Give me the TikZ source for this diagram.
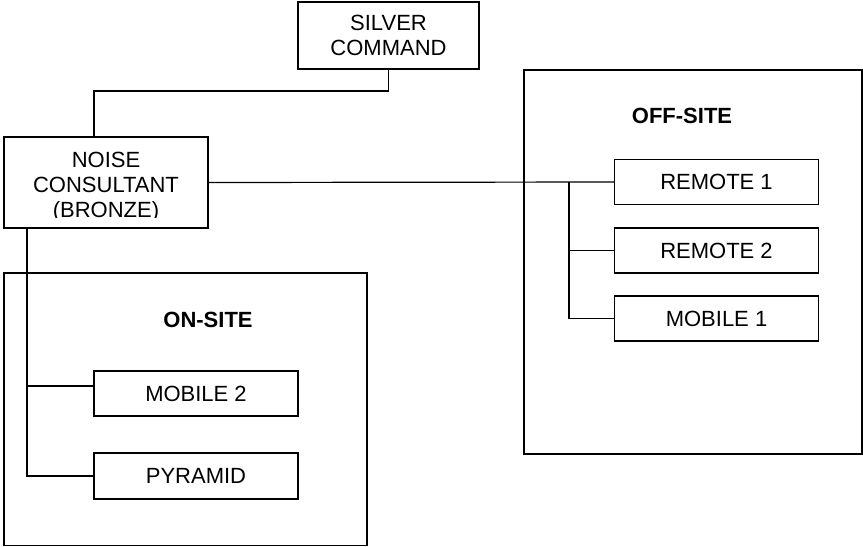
\documentclass[tikz,border=0pt]{standalone}
\usepackage{fontspec}
\setmainfont{Liberation Sans}
\usetikzlibrary{calc,positioning}

\begin{document}
\begin{tikzpicture}[x=0.75pt,y=-0.75pt,line width=0.9pt,
	every node/.style={inner sep=0pt,outer sep=0pt,align=center,
		font=\fontsize{16.5}{18.75}\selectfont},
	unit/.style={draw,minimum width=152.5pt,minimum height=33.75pt},
	zonelabel/.style={font=\fontsize{16.5}{18.75}\selectfont\bfseries}]

	\useasboundingbox (0,0) rectangle (863,546);

	% zones: big frames with their titles
	\node[draw,minimum width=253.5pt,minimum height=288pt] (offsite) at (693,262) {};
	\node[zonelabel] (offlabel) at (682,116) {OFF-SITE};
	\node[draw,minimum width=272.25pt,minimum height=204.4pt] (onsite) at (185.5,409.3) {};
	\node[zonelabel] (onlabel) at (208,320) {ON-SITE};

	% command chain
	\node[draw,minimum width=135.75pt,minimum height=50.25pt] (silver) at (388.5,35.5) {SILVER\\COMMAND};
	\node[draw,minimum width=153pt,minimum height=68.25pt] (noise) at (106,182.5) {};
	\begin{scope}
		% third line is cut off by the box in the original
		\clip (noise.north west) rectangle ($(noise.south east)+(0,-11)$);
		\node (noisetext) at (106,187) {NOISE\\CONSULTANT\\(BRONZE)};
	\end{scope}

	% off-site units
	\node[unit] (remote1) at (716.5,182) {REMOTE 1};
	\node[unit] (remote2) at (716.5,250.5) {REMOTE 2};
	\node[unit] (mobile1) at (716.5,318.5) {MOBILE 1};

	% on-site units
	\node[unit,minimum width=153pt] (mobile2) at (196,393.5) {MOBILE 2};
	\node[unit,minimum width=153pt,minimum height=34.5pt] (pyramid) at (196,476) {PYRAMID};

	% links
	\coordinate (bend) at (94,91);
	\coordinate (obus) at (569,182);
	\coordinate (nbot) at (27,228);
	\draw (silver.south) |- (bend) -- (noise.north -| bend);
	\draw (noise.east) -- (remote1.west);
	\draw (obus) |- (remote2.west);
	\draw (obus) |- (mobile1.west);
	\draw (nbot) |- ([yshift=5.6pt]mobile2.west);
	\draw (nbot) |- (pyramid.west);

\end{tikzpicture}
\end{document}
